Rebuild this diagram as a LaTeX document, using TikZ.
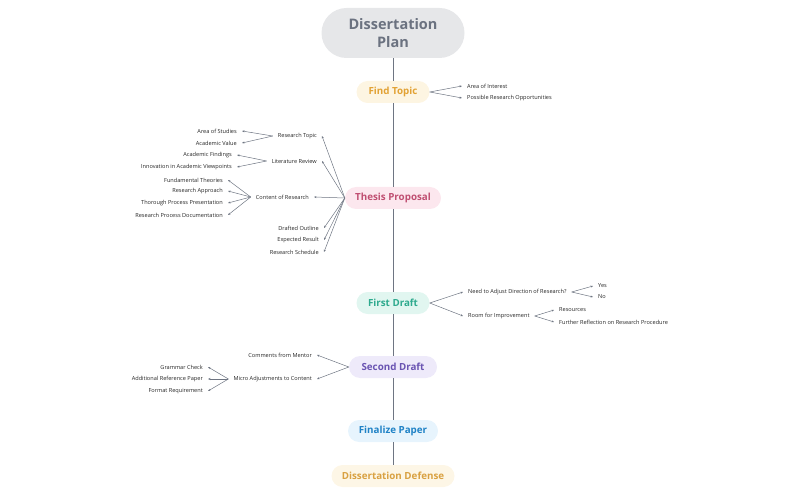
\documentclass[tikz,border=0pt]{standalone}
\usepackage{fontspec}
\setmainfont{Open Sans}
\usetikzlibrary{arrows.meta}
\definecolor{linec}{HTML}{6E7582}
\definecolor{planfill}{HTML}{E6E7E9}
\definecolor{plantext}{HTML}{6B7280}
\definecolor{ftfill}{HTML}{FDF5E2}
\definecolor{fttext}{HTML}{E2A234}
\definecolor{tpfill}{HTML}{FCE7EE}
\definecolor{tptext}{HTML}{C04F72}
\definecolor{fdfill}{HTML}{E1F6F0}
\definecolor{fdtext}{HTML}{2EAA8E}
\definecolor{sdfill}{HTML}{EEEAFA}
\definecolor{sdtext}{HTML}{6A54B2}
\definecolor{fpfill}{HTML}{E7F4FD}
\definecolor{fptext}{HTML}{1F82C6}
\definecolor{ddfill}{HTML}{FDF6E6}
\definecolor{ddtext}{HTML}{D9A142}
\tikzset{
  mainbox/.style={rounded corners=11pt, minimum height=22pt, inner xsep=8pt, font=\fontsize{9.8}{11}\selectfont\bfseries},
  leaf/.style={font=\fontsize{5.6}{6.5}\selectfont, text=black!85, inner xsep=5pt, inner ysep=1pt},
  spine/.style={draw=linec, line width=0.8pt},
  conn/.style={draw=linec, line width=0.5pt, -{Stealth[length=2.5pt,width=2pt]}},
}
\begin{document}
\begin{tikzpicture}[x=1pt,y=-1pt]
\useasboundingbox (0,0) rectangle (800,494);
% main nodes
\node[rounded corners=25pt, minimum width=143pt, minimum height=50pt, fill=planfill, text=plantext, font=\fontsize{14.5}{18.5}\selectfont\bfseries, align=center] (plan) at (393,33) {Dissertation\\Plan};
\node[mainbox, fill=ftfill, text=fttext, minimum width=73pt] (ft) at (393,92) {Find Topic};
\node[mainbox, fill=tpfill, text=tptext, minimum width=96pt] (tp) at (393,198) {Thesis Proposal};
\node[mainbox, fill=fdfill, text=fdtext, minimum width=73pt] (fd) at (393,303) {First Draft};
\node[mainbox, fill=sdfill, text=sdtext, minimum width=88pt] (sd) at (393,367) {Second Draft};
\node[mainbox, fill=fpfill, text=fptext, minimum width=90pt] (fp) at (393,431) {Finalize Paper};
\node[mainbox, fill=ddfill, text=ddtext, minimum width=123pt] (dd) at (393,476) {Dissertation Defense};
% spine
\draw[spine] (plan.south) -- (ft.north);
\draw[spine] (ft.south) -- (tp.north);
\draw[spine] (tp.south) -- (fd.north);
\draw[spine] (fd.south) -- (sd.north);
\draw[spine] (sd.south) -- (fp.north);
\draw[spine] (fp.south) -- (dd.north);
% Find Topic
\node[leaf, anchor=west] (aoi) at (462,86) {Area of Interest};
\node[leaf, anchor=west] (pro) at (462,98) {Possible Research Opportunities};
\draw[conn] (ft.east) -- (aoi.west);
\draw[conn] (ft.east) -- (pro.west);
% Thesis Proposal
\node[leaf, anchor=east] (rt) at (322,136) {Research Topic};
\node[leaf, anchor=east] (lr) at (322,161) {Literature Review};
\node[leaf, anchor=east] (cr) at (314,197) {Content of Research};
\node[leaf, anchor=east] (do) at (324,228) {Drafted Outline};
\node[leaf, anchor=east] (er) at (324,240) {Expected Result};
\node[leaf, anchor=east] (rs) at (324,252) {Research Schedule};
\foreach \n in {rt,lr,cr,do,er,rs}{\draw[conn] (tp.west) -- (\n.east);}
\node[leaf, anchor=east] (aos) at (242,131) {Area of Studies};
\node[leaf, anchor=east] (av) at (242,143) {Academic Value};
\draw[conn] (rt.west) -- (aos.east);
\draw[conn] (rt.west) -- (av.east);
\node[leaf, anchor=east] (af) at (237,155) {Academic Findings};
\node[leaf, anchor=east] (iav) at (237,167) {Innovation in Academic Viewpoints};
\draw[conn] (lr.west) -- (af.east);
\draw[conn] (lr.west) -- (iav.east);
\node[leaf, anchor=east] (fth) at (228,180) {Fundamental Theories};
\node[leaf, anchor=east] (ra) at (228,191) {Research Approach};
\node[leaf, anchor=east] (tpp) at (228,203) {Thorough Process Presentation};
\node[leaf, anchor=east] (rpd) at (228,215) {Research Process Documentation};
\foreach \n in {fth,ra,tpp,rpd}{\draw[conn] (cr.west) -- (\n.east);}
% First Draft
\node[leaf, anchor=west] (nad) at (463,292) {Need to Adjust Direction of Research?};
\node[leaf, anchor=west] (rfi) at (463,316) {Room for Improvement};
\draw[conn] (fd.east) -- (nad.west);
\draw[conn] (fd.east) -- (rfi.west);
\node[leaf, anchor=west] (yes) at (593,286) {Yes};
\node[leaf, anchor=west] (no) at (593,297) {No};
\draw[conn] (nad.east) -- (yes.west);
\draw[conn] (nad.east) -- (no.west);
\node[leaf, anchor=west] (res) at (554,310) {Resources};
\node[leaf, anchor=west] (frr) at (554,322) {Further Reflection on Research Procedure};
\draw[conn] (rfi.east) -- (res.west);
\draw[conn] (rfi.east) -- (frr.west);
% Second Draft
\node[leaf, anchor=east] (cfm) at (317,355) {Comments from Mentor};
\node[leaf, anchor=east] (mac) at (317,379) {Micro Adjustments to Content};
\draw[conn] (sd.west) -- (cfm.east);
\draw[conn] (sd.west) -- (mac.east);
\node[leaf, anchor=east] (gc) at (208,367) {Grammar Check};
\node[leaf, anchor=east] (arp) at (208,379) {Additional Reference Paper};
\node[leaf, anchor=east] (fr) at (208,391) {Format Requirement};
\foreach \n in {gc,arp,fr}{\draw[conn] (mac.west) -- (\n.east);}
\end{tikzpicture}
\end{document}
